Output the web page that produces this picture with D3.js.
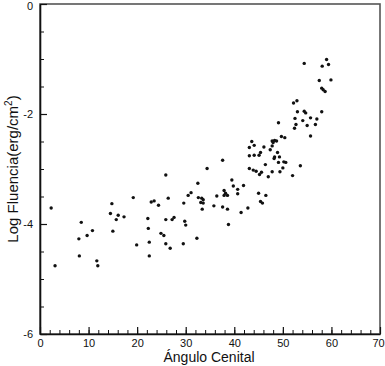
<!DOCTYPE html>
<html>
<head>
<meta charset="utf-8">
<script src="https://cdn.jsdelivr.net/npm/d3@7"></script>
<style>
  body { margin: 0; background: #fff; }
  svg { display: block; font-family: Arial, "Liberation Sans", sans-serif; }
</style>
</head>
<body>
<svg></svg>
<script>
// angulo cenital (grados)
const angulo = [
  2.3, 3.1, 8.0, 8.1, 8.5, 9.7, 10.8, 11.7, 11.9,
  14.5, 14.8, 15.0, 15.7, 16.1, 17.3, 19.2, 19.9,
  22.2, 22.3, 22.5, 22.5, 22.9, 23.5, 24.4, 24.9, 25.5, 25.9, 25.9, 25.9, 26.4, 26.8, 27.2, 27.6,
  29.5, 29.6, 29.8, 30.0, 30.5, 31.1, 32.3, 32.5, 32.6, 33.1, 33.3, 33.4, 33.6, 33.6, 34.4, 35.8, 36.4,
  37.6, 37.6, 37.9, 37.9, 38.2, 38.6, 38.6, 38.8, 39.5, 39.8, 40.7, 40.7, 41.4, 41.9, 42.8,
  43.1, 43.1, 43.1, 43.6, 44.1, 44.1, 45.1, 45.4, 46.1, 47.4, 47.8, 47.8, 48.0, 48.3, 48.7, 48.9, 49.3, 48.3, 48.2,
  49.1, 50.2, 50.6, 46.4, 43.9, 44.5, 45.6, 45.2, 47.8, 47.0, 49.4, 50.0, 52.0, 53.6,
  45.0, 46.5, 45.4, 45.8,
  49.1, 49.7, 50.4, 52.4, 52.7, 52.5, 54.1, 55.0, 55.7, 55.7, 56.7, 57.0, 53.0, 54.4, 54.7, 58.0, 52.2, 52.9,
  54.4, 59.0, 59.4, 58.1, 57.5, 59.9, 58.0, 58.3, 58.7
];
// log fluencia (erg/cm2)
const fluencia = [
  -3.71, -4.76, -4.27, -4.58, -3.97, -4.21, -4.12, -4.67, -4.76,
  -3.81, -3.63, -4.13, -3.92, -3.84, -3.87, -3.52, -4.38,
  -3.90, -4.08, -4.33, -4.58, -3.60, -3.58, -3.66, -4.17, -4.21, -4.36, -3.92, -3.11, -3.53, -4.44, -3.92, -3.88,
  -4.36, -3.62, -3.95, -4.02, -3.48, -3.43, -4.26, -3.26, -3.52, -3.61, -3.53, -3.73, -3.56, -3.62, -2.99, -3.67, -3.49,
  -2.84, -3.69, -3.39, -3.48, -3.44, -3.48, -3.73, -4.01, -3.20, -3.31, -3.37, -3.45, -3.79, -3.30, -3.71,
  -2.61, -2.76, -2.99, -2.50, -2.57, -2.75, -2.75, -2.70, -2.60, -2.65, -2.58, -2.49, -2.52, -2.48, -2.49, -2.70, -2.78, -2.78, -2.81,
  -2.88, -2.87, -2.88, -2.92, -3.02, -3.04, -3.06, -3.10, -3.05, -3.14, -3.05, -2.98, -3.12, -2.94,
  -3.44, -3.48, -3.59, -3.62,
  -2.16, -2.41, -2.43, -2.26, -2.19, -2.08, -2.12, -2.21, -2.07, -2.40, -2.19, -2.09, -1.96, -1.95, -1.98, -1.96, -1.80, -1.76,
  -1.08, -1.01, -1.10, -1.13, -1.39, -1.38, -1.53, -1.56, -1.59
];
const xTicks = [0, 10, 20, 30, 40, 50, 60, 70];
const yTicks = [0, -2, -4, -6];

const data = angulo.map((a, i) => ({angulo: a, fluencia: fluencia[i]}));

const svg = d3.select('svg')
  .attr('width', 385)
  .attr('height', 366);

const x = d3.scaleLinear().domain([0, 70]).range([40, 380]);
const y = d3.scaleLinear().domain([0, -6]).range([4, 334]);

// marco
svg.append('rect')
  .attr('x', x(0)).attr('y', y(0))
  .attr('width', x(70) - x(0)).attr('height', y(-6) - y(0))
  .attr('fill', 'none').attr('stroke', '#555').attr('stroke-width', 1.6);

// ejes menores
svg.append('g')
  .attr('transform', `translate(0,${y(-6)})`)
  .call(d3.axisBottom(x).tickValues(d3.range(0, 71, 2)).tickSize(-4).tickFormat(''))
  .call(g => g.select('.domain').remove());
svg.append('g')
  .attr('transform', `translate(${x(0)},0)`)
  .call(d3.axisLeft(y).tickValues(d3.range(0, -6.01, -0.5)).tickSize(-4).tickFormat(''))
  .call(g => g.select('.domain').remove());

// ejes mayores
const xAxis = svg.append('g')
  .attr('transform', `translate(0,${y(-6)})`)
  .call(d3.axisBottom(x).tickValues(xTicks).tickSize(-7).tickPadding(5).tickSizeOuter(0).tickFormat(d => String(d)));
const yAxis = svg.append('g')
  .attr('transform', `translate(${x(0)},0)`)
  .call(d3.axisLeft(y).tickValues(yTicks).tickSize(-7).tickPadding(7).tickSizeOuter(0).tickFormat(d => String(d)));

[xAxis, yAxis].forEach(g => {
  g.selectAll('text').attr('font-size', 11).attr('font-family', 'Arial, "Liberation Sans", sans-serif').attr('fill', '#111');
  g.selectAll('line').attr('stroke', '#111').attr('stroke-width', 1.2);
  g.select('.domain').attr('stroke', '#111').attr('stroke-width', 1.6);
});
svg.selectAll('.tick line').attr('stroke', '#111');
// el "0" superior un poco mas abajo, como en el original
yAxis.selectAll('.tick').filter(d => d === 0).select('text').attr('dy', '0.5em');
// el "70" pegado al borde derecho
xAxis.selectAll('.tick').filter(d => d === 70).select('text').attr('dx', -2);

// puntos
svg.append('g')
  .selectAll('circle')
  .data(data)
  .join('circle')
  .attr('cx', d => x(d.angulo))
  .attr('cy', d => y(d.fluencia))
  .attr('r', 1.7)
  .attr('fill', '#111');

// titulos
svg.append('text')
  .attr('x', 209)
  .attr('y', 362)
  .attr('text-anchor', 'middle')
  .attr('font-size', 14)
  .attr('fill', '#111')
  .text('Ángulo Cenital');

const yl = svg.append('text')
  .attr('transform', 'translate(18,169) rotate(-90)')
  .attr('text-anchor', 'middle')
  .attr('font-size', 15)
  .attr('fill', '#111');
yl.append('tspan').text('Log Fluencia(erg/cm');
yl.append('tspan').attr('font-size', 10).attr('dy', -6).text('2');
yl.append('tspan').attr('dy', 6).text(')');
</script>
</body>
</html>
